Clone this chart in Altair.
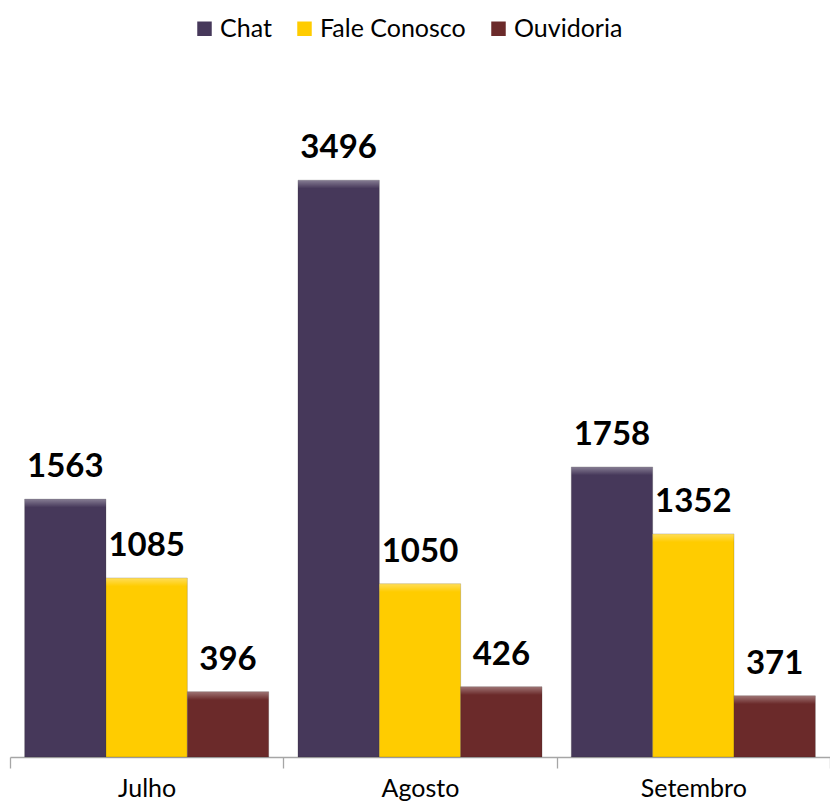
import altair as alt
import pandas as pd

months = ["Julho", "Agosto", "Setembro"]
series = ["Chat", "Fale Conosco", "Ouvidoria"]
chat = [1563, 3496, 1758]
fale = [1085, 1050, 1352]
ouvidoria = [396, 426, 371]
colors = ["#46385A", "#FFCC00", "#6B2A2A"]

rows = []
for i, m in enumerate(months):
    for s, vals in zip(series, [chat, fale, ouvidoria]):
        rows.append({"mes": m, "canal": s, "valor": vals[i]})
df = pd.DataFrame(rows)

x_enc = alt.X(
    "mes:N", sort=months,
    scale=alt.Scale(paddingInner=0, paddingOuter=0),
    axis=alt.Axis(title=None, labelAngle=0, tickBand="extent", tickSize=11,
                  labelPadding=28, labelBaseline="alphabetic",
                  labelFontSize=25, labelFont="Lato",
                  labelColor="#000000", domainColor="#A6A6A6", tickColor="#A6A6A6",
                  domainWidth=1.3, tickWidth=1.3),
)
xoff = alt.XOffset("canal:N", sort=series,
                   scale=alt.Scale(paddingOuter=0.18, paddingInner=0))
y_enc = alt.Y("valor:Q", scale=alt.Scale(domain=[0, 4000], nice=False), axis=None)

base = alt.Chart(df).encode(x=x_enc, xOffset=xoff, y=y_enc)

bars = base.mark_bar(stroke="#2a2a2a", strokeWidth=0.4, strokeOpacity=0.5).encode(
    color=alt.Color(
        "canal:N", sort=series,
        scale=alt.Scale(domain=series, range=colors),
        legend=alt.Legend(orient="none", legendX=182, legendY=-81,
                          direction="horizontal", title=None,
                          symbolType="square", symbolSize=210,
                          symbolStrokeWidth=0, labelFontSize=25,
                          labelFont="Lato", labelColor="#000000",
                          columnPadding=20, labelOffset=3),
    )
)

bevel = base.transform_calculate(top2="datum.valor - 50").mark_bar(
    color=alt.Gradient(
        gradient="linear", x1=0, x2=0, y1=0, y2=1,
        stops=[alt.GradientStop(offset=0, color="rgba(255,255,255,0.35)"),
               alt.GradientStop(offset=1, color="rgba(255,255,255,0)")],
    )
).encode(y2="top2:Q")

labels = base.mark_text(font="Lato", fontWeight="bold", fontSize=33,
                        baseline="alphabetic", dy=-22, color="#000000").encode(
    text="valor:Q"
)

chart = (bars + bevel + labels).properties(
    width=820, height=660,
    padding={"left": 2, "top": 89, "right": 0, "bottom": 46},
    autosize=alt.AutoSizeParams(type="none"),
).configure_view(stroke=None)

chart.save("out.html", embed_options={"renderer": "svg", "actions": False})
